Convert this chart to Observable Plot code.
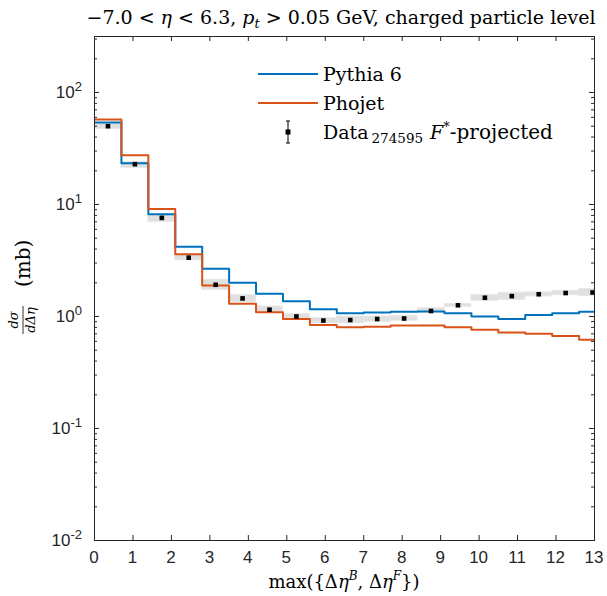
<!DOCTYPE html>
<html><head><meta charset="utf-8">
<script src="https://cdn.jsdelivr.net/npm/d3@7"></script>
<script src="https://cdn.jsdelivr.net/npm/@observablehq/plot@0.6"></script>
<style>body{margin:0;background:#fff}</style>
</head><body><div id="chart"></div>
<script>
// ---- data ----
const binLow  = [0,0.7,1.4,2.1,2.8,3.5,4.2,4.9,5.6,6.3,7.0,7.7,8.4,9.1,9.8,10.5,11.2,11.9,12.6];
const binHigh = [0.7,1.4,2.1,2.8,3.5,4.2,4.9,5.6,6.3,7.0,7.7,8.4,9.1,9.8,10.5,11.2,11.9,12.6,13.3];
const binCenter = [0.35,1.05,1.75,2.45,3.15,3.85,4.55,5.25,5.95,6.65,7.35,8.05,8.75,9.45,10.15,10.85,11.55,12.25,12.95];
const pythia6 = [54,23.4,8.2,4.2,2.67,2.0,1.6,1.37,1.16,1.07,1.085,1.10,1.11,1.07,1.0,0.95,1.03,1.07,1.10];
const phojet  = [57.5,27.5,9.1,3.6,1.89,1.3,1.09,0.95,0.84,0.80,0.81,0.83,0.83,0.80,0.76,0.72,0.70,0.67,0.62];
const dataVal = [50,22.9,7.59,3.35,1.92,1.45,1.15,1.0,0.92,0.93,0.95,0.96,1.12,1.26,1.47,1.52,1.58,1.62,1.64];
const sysLow  = [47.2,21.2,6.99,3.17,1.73,1.34,1.09,0.954,0.867,0.867,0.89,0.916,1.085,1.22,1.38,1.40,1.51,1.55,1.52];
const sysHigh = [53.4,23.9,8.11,3.56,2.13,1.56,1.23,1.048,0.966,1.0,1.0,1.006,1.185,1.297,1.56,1.63,1.64,1.70,1.76];
const xTicks = [0,1,2,3,4,5,6,7,8,9,10,11,12,13];
const yTicks = [0.01,0.1,1,10,100];
const yTickExp = ["-2","-1","0","1","2"];
const seriesNames = ["Pythia 6","Phojet"];
const seriesColors = ["#0072BD","#D95319"];

// ---- layout ----
const W = 607, H = 596;
const mL = 94, mR = 13, mT = 36, mB = 56;
const innerW = W - mL - mR, innerH = H - mT - mB;
const axisColor = "#262626";

const yMinor = [];
for (const d of [0.01,0.1,1,10,100]) for (let k=2;k<=9;k++) if (d*k < 316) yMinor.push(d*k);

function stepRows(vals){
  const rows = binLow.map((x,i)=>({x, y: vals[i]}));
  rows.push({x: binHigh[binHigh.length-1], y: vals[vals.length-1]});
  return rows;
}
const boxes = binLow.map((x,i)=>({x1:x, x2:binHigh[i], y1:sysLow[i], y2:sysHigh[i]}));
const points = binCenter.map((x,i)=>({x, y:dataVal[i]}));

const chart = Plot.plot({
  width: W, height: H,
  marginLeft: mL, marginRight: mR, marginTop: mT, marginBottom: mB,
  x: {domain:[0,13], axis:null},
  y: {type:"log", domain:[0.01, Math.pow(10,2.5)], axis:null},
  marks: [
    Plot.rect(boxes, {x1:"x1", x2:"x2", y1:"y1", y2:"y2", fill:"#d6d6d6", fillOpacity:0.75, stroke:"#e6e6e6", strokeWidth:0.8, clip:true}),
    Plot.line(stepRows(pythia6), {x:"x", y:"y", curve:"step-after", stroke:seriesColors[0], strokeWidth:2, clip:true}),
    Plot.line(stepRows(phojet), {x:"x", y:"y", curve:"step-after", stroke:seriesColors[1], strokeWidth:2, clip:true}),
    Plot.dot(points, {x:"x", y:"y", symbol:"square", r:2.6, fill:"black", stroke:"none"}),
    // inward ticks (MATLAB style box)
    Plot.ruleX(xTicks, {x:d=>d, insetTop: innerH-5, stroke:axisColor}),
    Plot.ruleX(xTicks, {x:d=>d, insetBottom: innerH-5, stroke:axisColor}),
    Plot.ruleY(yTicks, {y:d=>d, insetRight: innerW-5, stroke:axisColor}),
    Plot.ruleY(yTicks, {y:d=>d, insetLeft: innerW-5, stroke:axisColor}),
    Plot.ruleY(yMinor, {y:d=>d, insetRight: innerW-3, stroke:axisColor}),
    Plot.ruleY(yMinor, {y:d=>d, insetLeft: innerW-3, stroke:axisColor}),
    Plot.frame({stroke:axisColor, strokeWidth:1})
  ]
});
document.getElementById("chart").appendChild(chart);

const sx = chart.scale("x"), sy = chart.scale("y");
const svg = d3.select(chart);
const serif = "'DejaVu Serif',serif";
const sans = "'Liberation Sans',Arial,sans-serif";

// x tick labels
const gx = svg.append("g").attr("font-family", sans).attr("font-size", 17).attr("fill", axisColor).attr("text-anchor","middle");
xTicks.forEach(t => gx.append("text").attr("x", sx.apply(t)).attr("y", H - mB + 23).text(String(t)));

// y tick labels
const gy = svg.append("g").attr("font-family", sans).attr("font-size", 17).attr("fill", axisColor).attr("text-anchor","end");
yTicks.forEach((t,i) => {
  const txt = gy.append("text").attr("x", mL - 12).attr("y", sy.apply(t) + 6);
  txt.append("tspan").text("10");
  txt.append("tspan").attr("dy", -7).attr("font-size", 13).text(yTickExp[i]);
});

// title
const title = svg.append("text").attr("x", 341).attr("y", 24).attr("text-anchor","middle")
  .attr("font-family", serif).attr("font-size", 19).attr("fill", "#000");
title.append("tspan").text("\u22127.0 < ");
title.append("tspan").attr("font-style","italic").text("\u03B7");
title.append("tspan").text(" < 6.3, ");
title.append("tspan").attr("font-style","italic").text("p");
title.append("tspan").attr("font-style","italic").attr("font-size",13).attr("dy",4).text("t");
title.append("tspan").attr("dy",-4).text(" > 0.05 GeV, charged particle level");

// x label
const xl = svg.append("text").attr("x", mL + innerW/2).attr("y", 588).attr("text-anchor","middle")
  .attr("font-family", serif).attr("font-size", 18).attr("fill", "#000");
xl.append("tspan").text("max({\u0394");
xl.append("tspan").attr("font-style","italic").text("\u03B7");
xl.append("tspan").attr("font-style","italic").attr("font-size",12).attr("dy",-8).text("B");
xl.append("tspan").attr("dy",8).text(", \u0394");
xl.append("tspan").attr("font-style","italic").text("\u03B7");
xl.append("tspan").attr("font-style","italic").attr("font-size",12).attr("dy",-8).text("F");
xl.append("tspan").attr("dy",8).text("})");

// y label (rotated fraction)
const yl = svg.append("g").attr("transform","translate(23,290) rotate(-90)").attr("fill", "#000").attr("font-family", serif);
yl.append("text").attr("x",-30).attr("y",-5).attr("text-anchor","middle").attr("font-size",13).attr("font-style","italic").text("d\u03C3");
yl.append("line").attr("x1",-44).attr("x2",-16).attr("y1",0).attr("y2",0).attr("stroke","#000").attr("stroke-width",0.8);
yl.append("text").attr("x",-30).attr("y",12).attr("text-anchor","middle").attr("font-size",13).attr("font-style","italic").text("d\u0394\u03B7");
yl.append("text").attr("x",3).attr("y",7).attr("text-anchor","start").attr("font-size",20).text("(mb)");

// legend
const lg = svg.append("g").attr("font-family", serif).attr("font-size", 19).attr("fill", "#000").attr("text-anchor","start");
const legY = [74, 103, 132];
seriesNames.forEach((n,i) => {
  lg.append("line").attr("x1",258).attr("x2",318).attr("y1",legY[i]).attr("y2",legY[i]).attr("stroke",seriesColors[i]).attr("stroke-width",2);
  lg.append("text").attr("x",323).attr("y",legY[i]+7).text(n);
});
lg.append("line").attr("x1",288).attr("x2",288).attr("y1",legY[2]-11).attr("y2",legY[2]+11).attr("stroke","#000").attr("stroke-width",1);
lg.append("line").attr("x1",286).attr("x2",290).attr("y1",legY[2]-11).attr("y2",legY[2]-11).attr("stroke","#000");
lg.append("line").attr("x1",286).attr("x2",290).attr("y1",legY[2]+11).attr("y2",legY[2]+11).attr("stroke","#000");
lg.append("rect").attr("x",285.5).attr("y",legY[2]-2.5).attr("width",5).attr("height",5).attr("fill","#000");
const dt = lg.append("text").attr("x",323).attr("y",legY[2]+7);
dt.append("tspan").text("Data");
dt.append("tspan").attr("font-size",13.5).attr("dy",4).attr("dx",3).text("274595");
dt.append("tspan").attr("dy",-4).attr("dx",7).attr("font-style","italic").text("F");
dt.append("tspan").attr("font-size",13).attr("dy",-8).text("*");
dt.append("tspan").attr("dy",8).attr("font-size",20).text("-projected");
</script>
</body></html>
